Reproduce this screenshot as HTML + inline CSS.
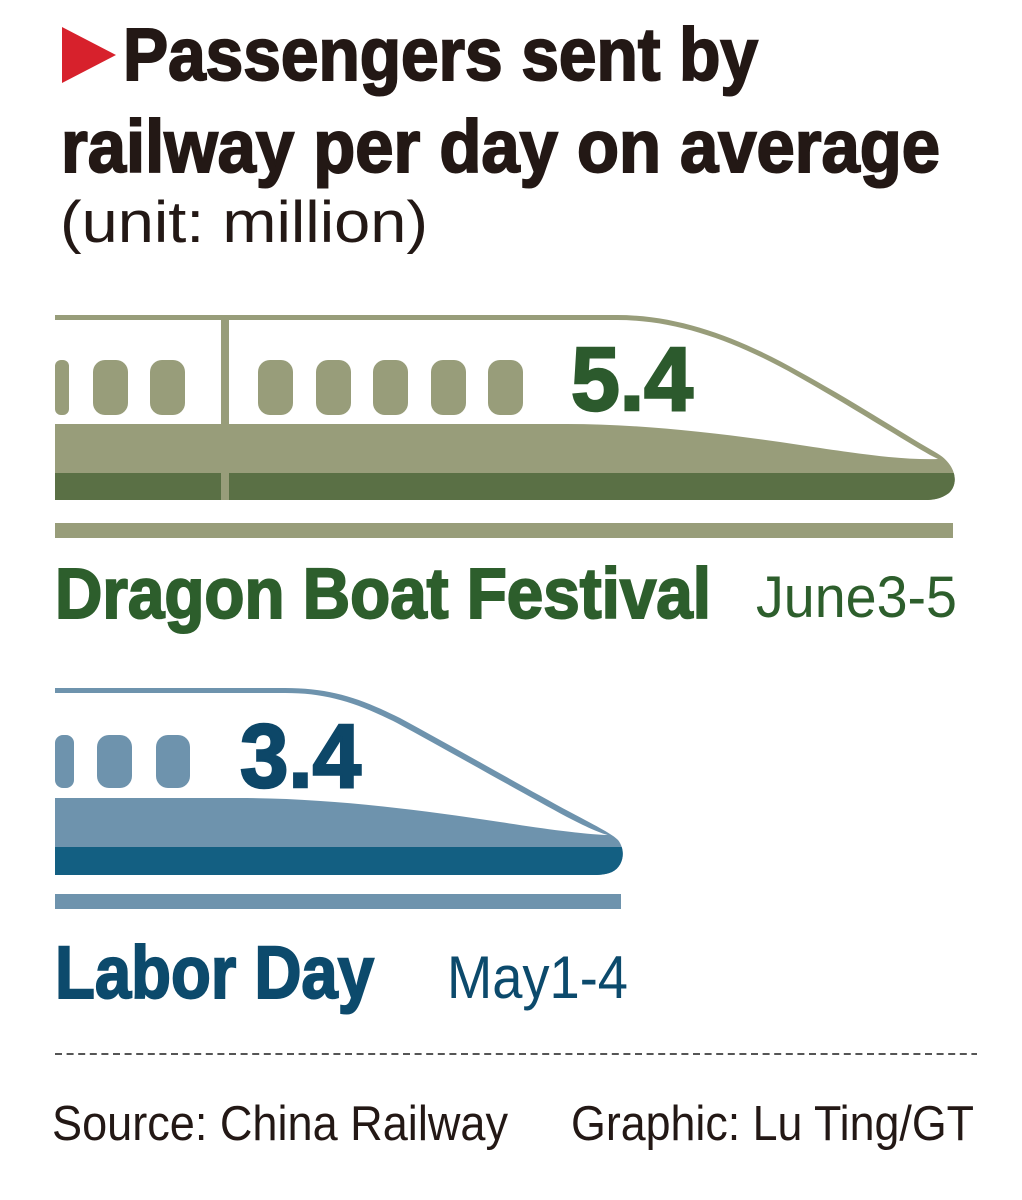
<!DOCTYPE html>
<html>
<head>
<meta charset="utf-8">
<style>
  html,body{margin:0;padding:0;background:#fff;}
  svg{display:block;}
  text{font-family:"Liberation Sans", sans-serif;}
</style>
</head>
<body>
<svg width="1022" height="1200" viewBox="0 0 1022 1200" xmlns="http://www.w3.org/2000/svg">
  <rect width="1022" height="1200" fill="#fff"/>

  <!-- Title -->
  <polygon points="62,27 116,55 62,83" fill="#d7212c"/>
  <text x="123" y="80" font-size="74" font-weight="bold" fill="#231815" stroke="#231815" stroke-width="2" textLength="635" lengthAdjust="spacingAndGlyphs">Passengers sent by</text>
  <text x="61" y="172" font-size="74" font-weight="bold" fill="#231815" stroke="#231815" stroke-width="2" textLength="879" lengthAdjust="spacingAndGlyphs">railway per day on average</text>
  <text x="60" y="242" font-size="58" fill="#231815" textLength="368" lengthAdjust="spacingAndGlyphs">(unit: million)</text>

  <defs>
    <clipPath id="gclip">
      <path d="M55,315 L617,315 C680,315 740,338 800,372 C860,405 905,435 935,452 C957,464 959,484 949,493 C941,499 933,500 925,500 L55,500 Z"/>
    </clipPath>
    <clipPath id="bclip">
      <path d="M55,688 L285,688 C330,688 360,698 400,718 C450,745 520,785 570,812 C600,828 612,834 618,840 C626,850 624,866 612,872 C605,875 598,875 592,875 L55,875 Z"/>
    </clipPath>
  </defs>

  <!-- Green train -->
  <path d="M55,315 L617,315 C680,315 740,338 800,372 C860,405 905,435 935,452 C957,464 959,484 949,493 C941,499 933,500 925,500 L55,500 Z" fill="#989d7a"/>
  <path d="M55,320 L617,320 C678,320 737,342 797,376 C857,410 900,438 930,455 L938,459 C900,460 860,454 800,445 C720,433 640,424 567,424 L55,424 Z" fill="#fff"/>
  <g clip-path="url(#gclip)">
    <rect x="55" y="473" width="920" height="27" fill="#5a7045"/>
  </g>
  <rect x="221" y="318" width="8" height="182" fill="#989d7a"/>
  <g fill="#989d7a">
    <rect x="55" y="360" width="14" height="55" rx="6"/>
    <rect x="93" y="360" width="35" height="55" rx="12"/>
    <rect x="150" y="360" width="35" height="55" rx="12"/>
    <rect x="258" y="360" width="35" height="55" rx="12"/>
    <rect x="316" y="360" width="35" height="55" rx="12"/>
    <rect x="373" y="360" width="35" height="55" rx="12"/>
    <rect x="431" y="360" width="35" height="55" rx="12"/>
    <rect x="488" y="360" width="35" height="55" rx="12"/>
  </g>
  <text x="571" y="410" font-size="90" font-weight="bold" fill="#2c5a2d" stroke="#2c5a2d" stroke-width="2.5" textLength="122" lengthAdjust="spacingAndGlyphs">5.4</text>
  <rect x="55" y="523" width="898" height="15" fill="#989d7a"/>

  <text x="55" y="618" font-size="71" font-weight="bold" fill="#2d5e2c" stroke="#2d5e2c" stroke-width="2" textLength="656" lengthAdjust="spacingAndGlyphs">Dragon Boat Festival</text>
  <text x="756" y="617" font-size="58" fill="#2d5e2c" textLength="201" lengthAdjust="spacingAndGlyphs">June3-5</text>

  <!-- Blue train -->
  <path d="M55,688 L285,688 C330,688 360,698 400,718 C450,745 520,785 570,812 C600,828 612,834 618,840 C626,850 624,866 612,872 C605,875 598,875 592,875 L55,875 Z" fill="#6e93ad"/>
  <path d="M55,693 L285,693 C328,693 357,703 397,723 C447,750 517,790 567,817 C590,829 603,834 608,835 C580,834 540,828 500,822 C420,810 330,798 239,798 L55,798 Z" fill="#fff"/>
  <g clip-path="url(#bclip)">
    <rect x="55" y="847" width="600" height="28" fill="#135f82"/>
  </g>
  <g fill="#6e93ad">
    <rect x="55" y="735" width="19" height="53" rx="8"/>
    <rect x="97" y="735" width="35" height="53" rx="12"/>
    <rect x="156" y="735" width="34" height="53" rx="12"/>
  </g>
  <text x="240" y="787" font-size="90" font-weight="bold" fill="#0d4768" stroke="#0d4768" stroke-width="2.5" textLength="121" lengthAdjust="spacingAndGlyphs">3.4</text>
  <rect x="55" y="894" width="566" height="15" fill="#6e93ad"/>

  <text x="55" y="998" font-size="74" font-weight="bold" fill="#0c4a6c" stroke="#0c4a6c" stroke-width="2" textLength="319" lengthAdjust="spacingAndGlyphs">Labor Day</text>
  <text x="447" y="998" font-size="60" fill="#0c4a6c" textLength="181" lengthAdjust="spacingAndGlyphs">May1-4</text>

  <!-- Footer -->
  <line x1="55" y1="1054" x2="977" y2="1054" stroke="#555" stroke-width="2" stroke-dasharray="7 4.6"/>
  <text x="52" y="1140" font-size="49" fill="#231815" textLength="456" lengthAdjust="spacingAndGlyphs">Source: China Railway</text>
  <text x="571" y="1140" font-size="49" fill="#231815" textLength="403" lengthAdjust="spacingAndGlyphs">Graphic: Lu Ting/GT</text>
</svg>
</body>
</html>
